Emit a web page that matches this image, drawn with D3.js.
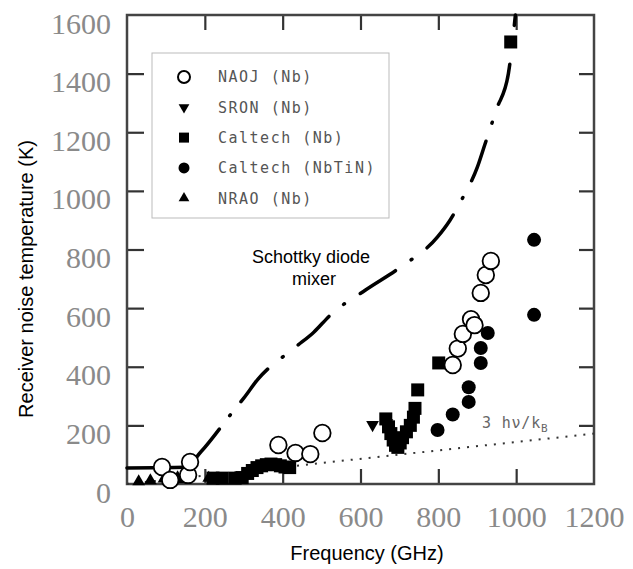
<!DOCTYPE html>
<html lang="en">
<head>
    <meta charset="UTF-8">
    <title>Receiver noise temperature</title>
    <script src="https://d3js.org/d3.v7.min.js"></script>
    <style>
        body{
            margin: 0;
            background: #fff;
        }
        .tickLabel text{
            font-family: "Liberation Serif", serif;
            font-size: 30px;
            fill: #8a8a8a;
        }
    </style>
</head>
<body>
    <div id="chart"></div>

    <script>
        // data (frequency GHz, temperature K)
        const naoj = [[90, 58], [111, 14], [157, 31], [162, 75], [389, 133], [433, 106], [471, 102], [502, 174],
            [837, 406], [850, 462], [863, 512], [884, 562], [893, 542], [909, 652], [922, 713], [935, 761]];
        const sron = [[631, 202], [668, 208]];
        const caltechNb = [[221, 20], [245, 20], [278, 20], [296, 22], [310, 36], [322, 46], [334, 56], [346, 62],
            [358, 66], [370, 68], [382, 66], [394, 62], [406, 58], [418, 56],
            [665, 222], [672, 195], [678, 172], [684, 150], [690, 132], [696, 125], [702, 140], [708, 158],
            [718, 178], [728, 200], [736, 228], [740, 258], [747, 321], [801, 413], [986, 1508]];
        const caltechNbTiN = [[798, 184], [837, 237], [878, 280], [878, 330], [909, 413], [909, 464], [927, 515],
            [1046, 577], [1046, 833]];
        const nrao = [[30, 8], [60, 12], [95, 18], [130, 22], [145, 15], [210, 20]];
        const schottky = [[0, 55], [150, 57], [190, 110], [265, 235], [300, 293], [335, 355], [433, 467], [480, 518],
            [523, 577], [613, 662], [703, 740], [798, 843], [830, 900], [860, 970], [900, 1080], [920, 1160],
            [950, 1280], [980, 1400], [998, 1600]];
        const quantumLimit = [[0, 0], [1200, 172]];

        const xTicks = [0, 200, 400, 600, 800, 1000, 1200];
        const yTicks = [0, 200, 400, 600, 800, 1000, 1200, 1400, 1600];

        const legendItems = [
            {label: "NAOJ (Nb)", shape: "open"},
            {label: "SRON (Nb)", shape: "down"},
            {label: "Caltech (Nb)", shape: "square"},
            {label: "Caltech (NbTiN)", shape: "dot"},
            {label: "NRAO (Nb)", shape: "up"}
        ];

        const width = 633;
        const height = 569;

        const svg = d3.select("#chart")
            .append("svg")
            .attr("width", width)
            .attr("height", height);

        const x = d3.scaleLinear().domain([0, 1200]).range([127, 594]);
        const y = d3.scaleLinear().domain([0, 1600]).range([484, 15]);

        // axes, ticks pointing inward
        const inner = xTicks.slice(1, -1);
        const innerY = yTicks.slice(1, -1);

        svg.append("g")
            .attr("class", "tickLabel")
            .attr("transform", `translate(0,${y(0)})`)
            .call(d3.axisBottom(x).tickValues(xTicks).tickFormat(d3.format("d"))
                .tickSizeInner(0).tickSizeOuter(0).tickPadding(22))
            .call(g => g.select(".domain").remove());

        svg.append("g")
            .attr("class", "tickLabel")
            .attr("transform", `translate(${x(0)},0)`)
            .call(d3.axisLeft(y).tickValues(yTicks).tickFormat(d3.format("d"))
                .tickSizeInner(0).tickSizeOuter(0).tickPadding(16))
            .call(g => g.select(".domain").remove())
            .selectAll("text").attr("dy", "0.6em");

        const tickStyle = g => {
            g.select(".domain").remove();
            g.selectAll("line").attr("stroke", "#333").attr("stroke-width", 2.2);
        };
        svg.append("g").attr("transform", `translate(0,${y(0)})`)
            .call(d3.axisBottom(x).tickValues(inner).tickSize(-15).tickFormat("")).call(tickStyle);
        svg.append("g").attr("transform", `translate(0,${y(1600)})`)
            .call(d3.axisTop(x).tickValues(inner).tickSize(-15).tickFormat("")).call(tickStyle);
        svg.append("g").attr("transform", `translate(${x(0)},0)`)
            .call(d3.axisLeft(y).tickValues(innerY).tickSize(-17).tickFormat("")).call(tickStyle);
        svg.append("g").attr("transform", `translate(${x(1200)},0)`)
            .call(d3.axisRight(y).tickValues(innerY).tickSize(-15).tickFormat("")).call(tickStyle);

        // frame
        svg.append("rect")
            .attr("x", x(0))
            .attr("y", y(1600))
            .attr("width", x(1200) - x(0))
            .attr("height", y(0) - y(1600))
            .attr("fill", "none")
            .attr("stroke", "#444")
            .attr("stroke-width", 2.5);

        const line = d3.line().x(d => x(d[0])).y(d => y(d[1]));

        // 3hv/kB limit
        svg.append("path")
            .datum(quantumLimit)
            .attr("d", line)
            .attr("fill", "none")
            .attr("stroke", "#333")
            .attr("stroke-width", 2)
            .attr("stroke-dasharray", "2,7");

        // schottky mixer curve
        svg.append("path")
            .datum(schottky)
            .attr("d", line.curve(d3.curveMonotoneX))
            .attr("fill", "none")
            .attr("stroke", "#000")
            .attr("stroke-width", 3.5)
            .attr("stroke-linecap", "round")
            .attr("stroke-dasharray", "110,17,1,17,42,19,1,19,42,19,1,19,42,19,1,19,42,19,1,19,42,19,1,19,42,19,1,19,42,19,1,19,34,19,1,19,34,19,1,19,30,17,1,17,30,15,1,15");
        line.curve(d3.curveLinear);

        const tri = d3.symbol().type(d3.symbolTriangle).size(70);

        svg.selectAll(".nrao")
            .data(nrao)
            .enter().append("path")
            .attr("class", "nrao")
            .attr("d", tri)
            .attr("transform", d => `translate(${x(d[0])},${y(d[1])})`)
            .attr("fill", "#000");

        svg.selectAll(".sron")
            .data(sron)
            .enter().append("path")
            .attr("class", "sron")
            .attr("d", tri)
            .attr("transform", d => `translate(${x(d[0])},${y(d[1])}) rotate(180)`)
            .attr("fill", "#000");

        svg.selectAll(".caltechNb")
            .data(caltechNb)
            .enter().append("rect")
            .attr("class", "caltechNb")
            .attr("x", d => x(d[0]) - 6.5)
            .attr("y", d => y(d[1]) - 6.5)
            .attr("width", 13)
            .attr("height", 13)
            .attr("fill", "#000");

        svg.selectAll(".nbtin")
            .data(caltechNbTiN)
            .enter().append("circle")
            .attr("class", "nbtin")
            .attr("cx", d => x(d[0]))
            .attr("cy", d => y(d[1]))
            .attr("r", 7)
            .attr("fill", "#000");

        svg.selectAll(".naoj")
            .data(naoj)
            .enter().append("circle")
            .attr("class", "naoj")
            .attr("cx", d => x(d[0]))
            .attr("cy", d => y(d[1]))
            .attr("r", 8.3)
            .attr("fill", "#fff")
            .attr("stroke", "#000")
            .attr("stroke-width", 1.8);

        // legend
        const legend = svg.append("g");
        legend.append("rect")
            .attr("x", 152)
            .attr("y", 53)
            .attr("width", 237)
            .attr("height", 165)
            .attr("fill", "#fff")
            .attr("stroke", "#bbb")
            .attr("stroke-width", 1);

        const rows = legend.selectAll(".row")
            .data(legendItems)
            .enter().append("g")
            .attr("class", "row")
            .attr("transform", (d, i) => `translate(184,${77 + i * 30.3})`);

        rows.each(function(d) {
            const g = d3.select(this);
            if (d.shape === "open") {
                g.append("circle").attr("r", 6).attr("fill", "none").attr("stroke", "#000").attr("stroke-width", 2);
            } else if (d.shape === "down") {
                g.append("path").attr("d", d3.symbol().type(d3.symbolTriangle).size(50)).attr("transform", "rotate(180)");
            } else if (d.shape === "square") {
                g.append("rect").attr("x", -5).attr("y", -5).attr("width", 10).attr("height", 10);
            } else if (d.shape === "dot") {
                g.append("circle").attr("r", 5.5);
            } else {
                g.append("path").attr("d", d3.symbol().type(d3.symbolTriangle).size(50));
            }
        });

        rows.append("text")
            .attr("x", 34)
            .attr("dy", "0.36em")
            .text(d => d.label)
            .style("font-family", "'DejaVu Sans Mono', monospace")
            .style("font-size", "15px")
            .style("letter-spacing", "1.5px")
            .style("fill", "#555");

        // annotations
        const note = svg.append("text")
            .attr("x", 311)
            .attr("y", 263)
            .attr("text-anchor", "middle")
            .style("font-family", "'Liberation Sans', Arial, sans-serif")
            .style("font-size", "18px")
            .style("fill", "#000");
        note.append("tspan").attr("x", 311).text("Schottky diode");
        note.append("tspan").attr("x", 314).attr("dy", 22).text("mixer");

        const hv = svg.append("text")
            .attr("x", 482)
            .attr("y", 428)
            .style("font-family", "'DejaVu Sans Mono', monospace")
            .style("font-size", "15px")
            .style("letter-spacing", "0.8px")
            .style("fill", "#666");
        hv.append("tspan").text("3 hν/k");
        hv.append("tspan").attr("dy", 4).style("font-size", "11px").text("B");

        // axis titles
        svg.append("text")
            .attr("transform", `translate(33,279) rotate(-90)`)
            .attr("text-anchor", "middle")
            .style("font-family", "'Liberation Sans', Arial, sans-serif")
            .style("font-size", "20px")
            .text("Receiver noise temperature (K)");

        svg.append("text")
            .attr("x", 367)
            .attr("y", 560)
            .attr("text-anchor", "middle")
            .style("font-family", "'Liberation Sans', Arial, sans-serif")
            .style("font-size", "20px")
            .text("Frequency (GHz)");
    </script>
</body>
</html>
